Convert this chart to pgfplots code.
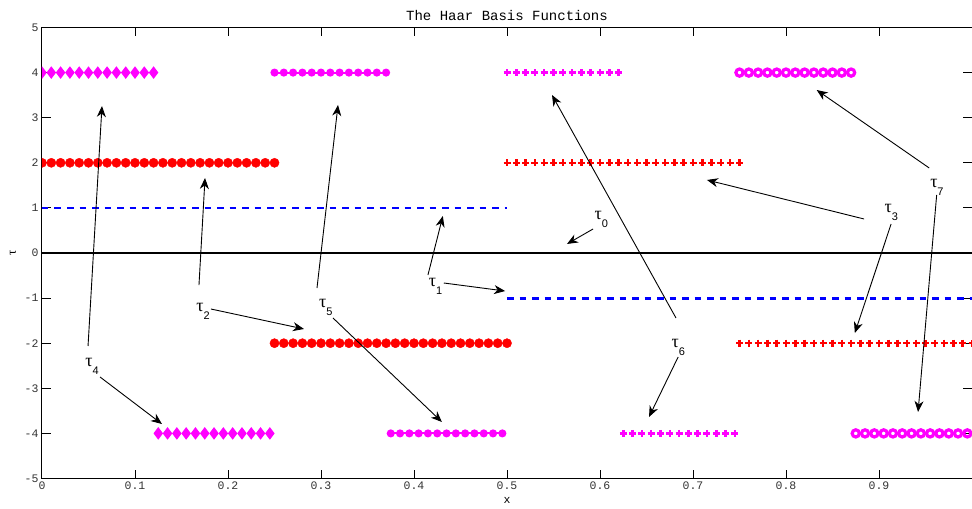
\documentclass[border=0pt]{standalone}
\usepackage{fontspec}
\setmainfont{Liberation Mono}
\newfontfamily\serif{Liberation Serif}
\newfontfamily\sans{Liberation Sans}
\usepackage{pgfplots}
\pgfplotsset{compat=1.18}
\usetikzlibrary{arrows.meta}
\definecolor{mag}{RGB}{255,0,255}
\definecolor{rd}{RGB}{255,0,0}
\definecolor{bl}{RGB}{0,0,255}
\tikzset{arr/.style={-{Stealth[length=11pt,width=9pt,inset=3.5pt]}, line width=0.9pt, black}}
\newcommand\T[1]{{\serif\fontsize{18}{18}\selectfont τ}\rlap{\smash{\raisebox{-8pt}{\sans\fontsize{11}{11}\selectfont #1}}}}
\begin{document}
\begin{tikzpicture}
\begin{axis}[
 scale only axis, width=930pt, height=451pt,
 xmin=0, xmax=1, ymin=-5, ymax=5,
 xtick={0,0.1,0.2,0.3,0.4,0.5,0.6,0.7,0.8,0.9},
 xticklabels={0,0.1,0.2,0.3,0.4,0.5,0.6,0.7,0.8,0.9},
 ytick={-5,-4,-3,-2,-1,0,1,2,3,4,5},
 yticklabels={-5,-4,-3,-2,-1,0,1,2,3,4,5},
 tick align=inside, major tick length=9pt, tick pos=both,
 axis line style={line width=1pt},
 every tick/.style={black, line width=1pt},
 tick label style={font=\fontsize{11.5}{11.5}\selectfont, text=black!80},
 clip marker paths=true,
 xlabel={x},
 xlabel style={font=\fontsize{11.5}{11.5}\selectfont, at={(axis description cs:0.5,0)}, anchor=base, yshift=-25pt},
]
\coordinate (SW) at (rel axis cs:0,0);
\coordinate (NE) at (rel axis cs:1,1);
\coordinate (ML) at (rel axis cs:0,0.5);
\coordinate (MT) at (rel axis cs:0.5,1);
% tau0
\addplot[black, line width=2.8pt, no marks] coordinates {(0,0)(1,0)};
% tau1
\addplot[bl, line width=2.8pt, no marks, dash pattern=on 6.5pt off 6pt] coordinates {(0,1)(0.5,1)};
\addplot[bl, line width=2.8pt, no marks, dash pattern=on 6.5pt off 6pt] coordinates {(0.5,-1)(1,-1)};
% tau2
\addplot[only marks, mark=*, mark size=4.6pt, rd] coordinates {(0,2)(0.01,2)(0.02,2)(0.03,2)(0.04,2)(0.05,2)(0.06,2)(0.07,2)(0.08,2)(0.09,2)(0.10,2)(0.11,2)(0.12,2)(0.13,2)(0.14,2)(0.15,2)(0.16,2)(0.17,2)(0.18,2)(0.19,2)(0.20,2)(0.21,2)(0.22,2)(0.23,2)(0.24,2)(0.25,2)};
\addplot[only marks, mark=*, mark size=4.6pt, rd] coordinates {(0.25,-2)(0.26,-2)(0.27,-2)(0.28,-2)(0.29,-2)(0.30,-2)(0.31,-2)(0.32,-2)(0.33,-2)(0.34,-2)(0.35,-2)(0.36,-2)(0.37,-2)(0.38,-2)(0.39,-2)(0.40,-2)(0.41,-2)(0.42,-2)(0.43,-2)(0.44,-2)(0.45,-2)(0.46,-2)(0.47,-2)(0.48,-2)(0.49,-2)(0.50,-2)};
% tau3
\addplot[only marks, mark=+, mark size=3.5pt, line width=2.5pt, rd] coordinates {(0.50,2)(0.51,2)(0.52,2)(0.53,2)(0.54,2)(0.55,2)(0.56,2)(0.57,2)(0.58,2)(0.59,2)(0.60,2)(0.61,2)(0.62,2)(0.63,2)(0.64,2)(0.65,2)(0.66,2)(0.67,2)(0.68,2)(0.69,2)(0.70,2)(0.71,2)(0.72,2)(0.73,2)(0.74,2)(0.75,2)};
\addplot[only marks, mark=+, mark size=3.5pt, line width=2.5pt, rd] coordinates {(0.75,-2)(0.76,-2)(0.77,-2)(0.78,-2)(0.79,-2)(0.80,-2)(0.81,-2)(0.82,-2)(0.83,-2)(0.84,-2)(0.85,-2)(0.86,-2)(0.87,-2)(0.88,-2)(0.89,-2)(0.90,-2)(0.91,-2)(0.92,-2)(0.93,-2)(0.94,-2)(0.95,-2)(0.96,-2)(0.97,-2)(0.98,-2)(0.99,-2)(1.00,-2)};
% tau4
\addplot[only marks, mark=diamond*, mark size=5.5pt, line width=1pt, mag] coordinates {(0,4)(0.01,4)(0.02,4)(0.03,4)(0.04,4)(0.05,4)(0.06,4)(0.07,4)(0.08,4)(0.09,4)(0.10,4)(0.11,4)(0.12,4)};
\addplot[only marks, mark=diamond*, mark size=5.5pt, line width=1pt, mag] coordinates {(0.125,-4)(0.135,-4)(0.145,-4)(0.155,-4)(0.165,-4)(0.175,-4)(0.185,-4)(0.195,-4)(0.205,-4)(0.215,-4)(0.225,-4)(0.235,-4)(0.245,-4)};
% tau5
\addplot[mark=*, mark size=3pt, line width=2pt, mag] coordinates {(0.25,4)(0.26,4)(0.27,4)(0.28,4)(0.29,4)(0.30,4)(0.31,4)(0.32,4)(0.33,4)(0.34,4)(0.35,4)(0.36,4)(0.37,4)};
\addplot[mark=*, mark size=3pt, line width=2pt, mag] coordinates {(0.375,-4)(0.385,-4)(0.395,-4)(0.405,-4)(0.415,-4)(0.425,-4)(0.435,-4)(0.445,-4)(0.455,-4)(0.465,-4)(0.475,-4)(0.485,-4)(0.495,-4)};
% tau6
\addplot[only marks, mark=+, mark size=3.5pt, line width=2.5pt, mag] coordinates {(0.50,4)(0.51,4)(0.52,4)(0.53,4)(0.54,4)(0.55,4)(0.56,4)(0.57,4)(0.58,4)(0.59,4)(0.60,4)(0.61,4)(0.62,4)};
\addplot[only marks, mark=+, mark size=3.5pt, line width=2.5pt, mag] coordinates {(0.625,-4)(0.635,-4)(0.645,-4)(0.655,-4)(0.665,-4)(0.675,-4)(0.685,-4)(0.695,-4)(0.705,-4)(0.715,-4)(0.725,-4)(0.735,-4)(0.745,-4)};
% tau7
\addplot[only marks, mark=o, mark size=3.6pt, line width=3.2pt, mag] coordinates {(0.75,4)(0.76,4)(0.77,4)(0.78,4)(0.79,4)(0.80,4)(0.81,4)(0.82,4)(0.83,4)(0.84,4)(0.85,4)(0.86,4)(0.87,4)};
\addplot[only marks, mark=o, mark size=3.6pt, line width=3.2pt, mag] coordinates {(0.875,-4)(0.885,-4)(0.895,-4)(0.905,-4)(0.915,-4)(0.925,-4)(0.935,-4)(0.945,-4)(0.955,-4)(0.965,-4)(0.975,-4)(0.985,-4)(0.995,-4)};
% annotations
\draw[arr] (axis cs:0.5925,0.532) -- (axis cs:0.5645,0.200);
\draw[arr] (axis cs:0.415,-0.488) -- (axis cs:0.431,0.820);
\draw[arr] (axis cs:0.432,-0.665) -- (axis cs:0.498,-0.843);
\draw[arr] (axis cs:0.1817,-1.242) -- (axis cs:0.2817,-1.685);
\draw[arr] (axis cs:0.1688,-0.710) -- (axis cs:0.1753,1.663);
\draw[arr] (axis cs:0.884,0.754) -- (axis cs:0.715,1.619);
\draw[arr] (axis cs:0.913,0.643) -- (axis cs:0.874,-1.774);
\draw[arr] (axis cs:0.954,1.885) -- (axis cs:0.833,3.614);
\draw[arr] (axis cs:0.962,1.286) -- (axis cs:0.942,-3.525);
\draw[arr] (axis cs:0.0495,-2.062) -- (axis cs:0.0645,3.259);
\draw[arr] (axis cs:0.0624,-2.749) -- (axis cs:0.129,-3.792);
\draw[arr] (axis cs:0.2957,-0.776) -- (axis cs:0.3183,3.282);
\draw[arr] (axis cs:0.3129,-1.441) -- (axis cs:0.430,-3.747);
\draw[arr] (axis cs:0.6817,-1.441) -- (axis cs:0.5484,3.503);
\draw[arr] (axis cs:0.684,-2.306) -- (axis cs:0.6527,-3.636);
\node[inner sep=0pt] at (axis cs:0.598,0.843) {\T{0}};
\node[inner sep=0pt] at (axis cs:0.420,-0.643) {\T{1}};
\node[inner sep=0pt] at (axis cs:0.170,-1.197) {\T{2}};
\node[inner sep=0pt] at (axis cs:0.910,0.998) {\T{3}};
\node[inner sep=0pt] at (axis cs:0.0505,-2.417) {\T{4}};
\node[inner sep=0pt] at (axis cs:0.302,-1.109) {\T{5}};
\node[inner sep=0pt] at (axis cs:0.681,-1.996) {\T{6}};
\node[inner sep=0pt] at (axis cs:0.959,1.552) {\T{7}};
\end{axis}
\node[rotate=90, inner sep=0pt, font=\serif\fontsize{13}{13}\selectfont] at ([xshift=-29pt]ML) {τ};
\node[anchor=base, inner sep=0pt, font=\fontsize{14}{14}\selectfont] at ([yshift=7pt]MT) {The Haar Basis Functions};
\pgfresetboundingbox
\path ([shift={(-42pt,-29.5pt)}]SW) rectangle ([shift={(0pt,27.5pt)}]NE);
\end{tikzpicture}
\end{document}
